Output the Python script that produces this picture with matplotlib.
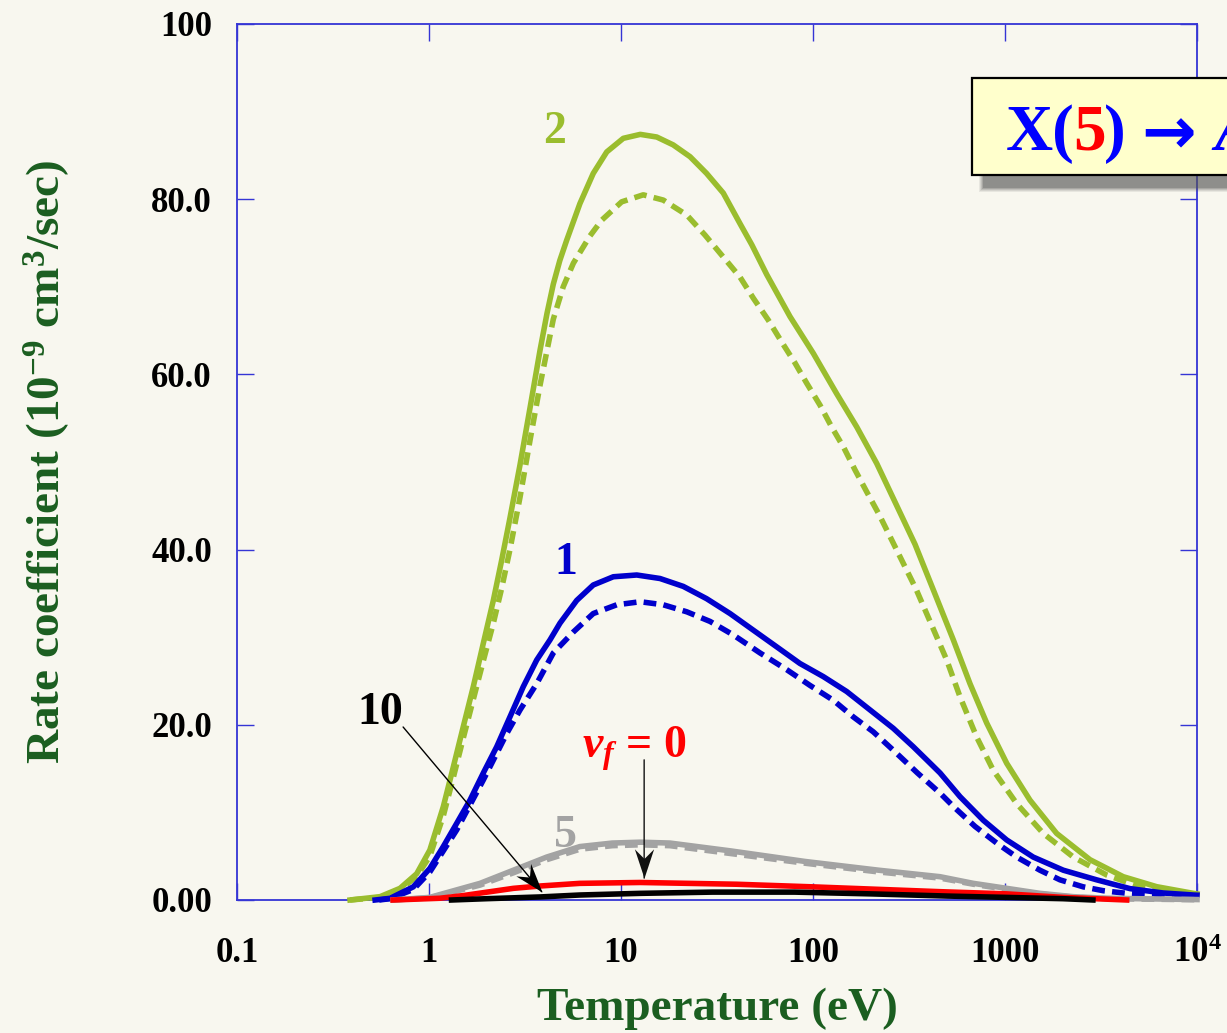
import math
import matplotlib
matplotlib.use("Agg")
import matplotlib.pyplot as plt
import matplotlib.patches as mpatches
from matplotlib.path import Path
from matplotlib.markers import MarkerStyle
from matplotlib.transforms import Affine2D
from matplotlib.ticker import NullLocator, FixedLocator

# ---- data: rate coefficients (1e-9 cm^3/s) vs temperature (eV) ----
# v_f = 2 (solid / dashed)
t_v2 = [0.388, 0.556, 0.706, 0.863, 1.01, 1.187, 1.339, 1.509, 1.701, 1.918, 2.163, 2.391,
        2.64, 2.98, 3.36, 3.79, 4.12, 4.44, 4.8, 5.21, 6.11, 7.17, 8.43, 10.28, 12.6, 15.35,
        18.7, 22.9, 27.9, 34.1, 41.7, 48.0, 57.4, 75.9, 100.4, 132.8, 169, 214.6, 261.9,
        340, 427, 538, 657, 803, 1021, 1349, 1858, 2773, 4130, 6166, 9570, 10000]
k_v2 = [0.0, 0.38, 1.33, 3.0, 5.7, 10.65, 15.2, 19.8, 24.35, 29.3, 34.2, 38.8,
        43.6, 49.7, 56.2, 62.8, 67.0, 70.3, 73.0, 75.3, 79.5, 82.95, 85.4, 86.95, 87.4, 87.1,
        86.2, 84.85, 82.95, 80.7, 77.2, 74.8, 71.4, 66.6, 62.4, 57.8, 54.0, 49.85, 45.85,
        40.6, 35.2, 29.7, 24.7, 20.2, 15.6, 11.4, 7.6, 4.6, 2.66, 1.52, 0.76, 0.7]
t_v2d = [0.388, 0.556, 0.706, 0.863, 1.01, 1.187, 1.339, 1.509, 1.701, 1.918, 2.163, 2.391,
         2.64, 2.98, 3.36, 3.79, 4.44, 5.0, 5.65, 6.89, 7.93, 10.08, 13.06, 16.6, 22.0, 27.4,
         34.1, 41.7, 48.9, 58.5, 68.7, 80.6, 92.7, 108.7, 125.1, 145, 165.5, 190.4, 221,
         344, 497, 583, 712, 869, 1151, 1583, 2270, 3388, 5047, 7530, 9450]
k_v2d = [0.0, 0.3, 1.2, 2.7, 5.0, 9.6, 14.0, 18.5, 22.9, 27.3, 31.6, 35.6,
         40.0, 46.0, 52.5, 58.8, 66.3, 70.0, 72.7, 75.8, 77.6, 79.7, 80.5, 79.9, 78.2, 75.9,
         73.4, 71.1, 68.7, 66.2, 63.7, 61.3, 59.0, 56.5, 54.0, 51.6, 49.1, 46.6, 44.0,
         35.5, 27.4, 23.2, 18.6, 14.8, 11.0, 7.6, 4.9, 2.85, 1.5, 0.95, 0.57]

# v_f = 1
t_v1 = [0.524, 0.627, 0.828, 1.01, 1.187, 1.394, 1.635, 1.918, 2.253, 2.64, 3.097, 3.64,
        4.27, 4.81, 5.88, 7.17, 9.12, 12.08, 15.97, 21.1, 27.9, 36.97, 48.9, 64.7, 85.5,
        113.2, 149.8, 198.1, 261.9, 332.8, 391, 459, 583, 771, 1021, 1403, 2013, 3004,
        4477, 6670, 9570, 10000]
k_v1 = [0.0, 0.19, 1.5, 3.6, 6.1, 8.75, 11.4, 14.5, 17.5, 20.9, 24.35, 27.4,
        29.7, 31.6, 34.2, 35.96, 36.9, 37.1, 36.7, 35.8, 34.4, 32.7, 30.8, 28.9, 27.0,
        25.5, 23.8, 21.7, 19.6, 17.5, 16.0, 14.5, 11.8, 9.1, 6.85, 4.9, 3.4, 2.3,
        1.3, 0.8, 0.57, 0.55]
t_v1d = [0.55, 0.627, 0.828, 1.01, 1.394, 1.918, 2.54, 2.98, 3.64, 4.44, 4.81, 5.65, 7.17,
         9.5, 12.6, 16.6, 22.0, 29.1, 38.5, 53, 72.9, 96.4, 127.6, 162.2, 206, 261.9,
         350, 459, 549, 698, 905, 1151, 1521, 1934, 2557, 3250, 4302, 6166, 8150, 10000]
k_v1d = [0.0, 0.15, 1.2, 3.2, 8.0, 13.7, 19.0, 21.7, 24.7, 28.2, 29.0, 30.6, 32.7,
         33.7, 34.05, 33.7, 32.9, 31.8, 30.25, 28.2, 26.3, 24.5, 22.8, 20.9, 19.2, 17.1,
         14.5, 12.2, 10.5, 8.4, 6.5, 4.9, 3.4, 2.3, 1.5, 1.06, 0.76, 0.57, 0.38, 0.3]

# v_f = 5
t_v5 = [0.65, 1.01, 1.844, 2.75, 4.10, 6.11, 9.0, 12.6, 18.0, 37.4, 90.9, 220,
        459, 684, 1021, 1521, 2270, 3388, 10000]
k_v5 = [0.0, 0.3, 1.9, 3.4, 4.9, 6.1, 6.5, 6.6, 6.5, 5.6, 4.4, 3.4,
        2.66, 1.9, 1.33, 0.76, 0.38, 0.2, 0.05]
k_v5d = [0.0, 0.25, 1.7, 3.1, 4.6, 5.8, 6.2, 6.3, 6.2, 5.3, 4.2, 3.2,
         2.5, 1.8, 1.2, 0.7, 0.33, 0.15, 0.03]

# v_f = 0
t_v0 = [0.65, 1.14, 1.5, 2.75, 3.8, 6.1, 12.6, 40, 100, 459, 1021, 2000, 4302]
k_v0 = [0.0, 0.2, 0.5, 1.33, 1.6, 1.9, 2.0, 1.8, 1.5, 0.95, 0.7, 0.3, 0.0]

# v_f = 10
t_v10 = [1.31, 2.0, 3.8, 6.1, 12.6, 30, 80, 200, 500, 1000, 2000, 2870]
k_v10 = [0.0, 0.15, 0.35, 0.57, 0.76, 0.9, 0.9, 0.7, 0.45, 0.3, 0.15, 0.0]

x_ticks = [0.1, 1, 10, 100, 1000, 1e4]
x_tick_labels = ["0.1", "1", "10", "100", "1000", r"$\mathbf{10^{4}}$"]
y_ticks = [0, 20, 40, 60, 80, 100]
y_tick_labels = ["0.00", "20.0", "40.0", "60.0", "80.0", "100"]

# ---- style ----
W, H = 1227, 1033
BG = "#f8f7ef"
GREEN = "#9abd2e"
BLUE = "#0000cc"
GRAY = "#a3a3a3"
RED = "#ff0000"
BLACK = "#000000"
AXIS_BLUE = "#3535d5"
LABEL_GREEN = "#1b5e20"
SERIF = ["Liberation Serif", "DejaVu Serif"]

plt.rcParams["font.family"] = SERIF
plt.rcParams["font.weight"] = "bold"
plt.rcParams["mathtext.fontset"] = "custom"
plt.rcParams["mathtext.rm"] = "Liberation Serif:bold"
plt.rcParams["mathtext.bf"] = "Liberation Serif:bold"
plt.rcParams["mathtext.it"] = "Liberation Serif:bold:italic"

fig = plt.figure(figsize=(W / 100, H / 100), dpi=100, facecolor=BG)
ax = fig.add_axes([237 / W, (H - 900) / H, 960 / W, 876 / H])
ax.set_facecolor(BG)
ax.set_xscale("log")
ax.set_xlim(0.1, 1e4)
ax.set_ylim(0, 100)

LW = 4.0
DASH = (0, (2.3, 1.3))

ax.plot(t_v2d, k_v2d, color=GREEN, lw=LW, ls=DASH, clip_on=False, zorder=3)
ax.plot(t_v2, k_v2, color=GREEN, lw=LW, clip_on=False, zorder=3)
ax.plot(t_v1d, k_v1d, color=BLUE, lw=LW, ls=DASH, clip_on=False, zorder=3.1)
ax.plot(t_v1, k_v1, color=BLUE, lw=LW, clip_on=False, zorder=3.1)
ax.plot(t_v5, k_v5d, color=GRAY, lw=LW, ls=DASH, clip_on=False, zorder=3.2)
ax.plot(t_v5, k_v5, color=GRAY, lw=LW, clip_on=False, zorder=3.2)
ax.plot(t_v0, k_v0, color=RED, lw=LW, clip_on=False, zorder=3.3)
ax.plot(t_v10, k_v10, color=BLACK, lw=LW, clip_on=False, zorder=3.4)

# axes frame and ticks
for sp in ax.spines.values():
    sp.set_color(AXIS_BLUE)
    sp.set_linewidth(1.3)
ax.xaxis.set_major_locator(FixedLocator(x_ticks))
ax.xaxis.set_minor_locator(NullLocator())
ax.set_xticklabels(x_tick_labels)
ax.set_yticks(y_ticks)
ax.set_yticklabels(y_tick_labels)
ax.tick_params(axis="both", which="major", direction="in", length=12, width=1.0,
               color=AXIS_BLUE, top=True, right=True, labelsize=25,
               labelcolor="black")
ax.tick_params(axis="x", pad=27)
ax.tick_params(axis="y", pad=18)
for lab in ax.get_xticklabels() + ax.get_yticklabels():
    lab.set_fontweight("bold")

ax.set_xlabel("Temperature (eV)", fontsize=34, fontweight="bold", color=LABEL_GREEN,
              labelpad=12)
ax.set_ylabel(r"Rate coefficient (10$^{\mathbf{-9}}$ cm$^{\mathbf{3}}$/sec)", fontsize=34,
              fontweight="bold", color=LABEL_GREEN)
ax.yaxis.set_label_coords(-0.172, 0.5)

# curve labels
LFS = 33
ax.text(4.52, 87.7, "2", color=GREEN, fontsize=LFS, fontweight="bold",
        ha="center", va="center", zorder=5)
ax.text(5.17, 38.5, "1", color=BLUE, fontsize=LFS, fontweight="bold",
        ha="center", va="center", zorder=5)
ax.text(5.17, 7.3, "5", color=GRAY, fontsize=LFS, fontweight="bold",
        ha="center", va="center", zorder=2)
ax.text(0.559, 21.4, "10", color=BLACK, fontsize=LFS, fontweight="bold",
        ha="center", va="center", zorder=5)
ax.text(6.27, 16.3, r"$v_{f}$ = 0", color=RED, fontsize=LFS, fontweight="bold",
        ha="left", va="baseline", zorder=5)

# pointer arrows with notched heads
HEAD = Path([(0, 0), (-1, 0.33), (-0.67, 0), (-1, -0.33), (0, 0)],
            [Path.MOVETO, Path.LINETO, Path.LINETO, Path.LINETO, Path.CLOSEPOLY])


def pointer(start, tip, color):
    ax.annotate("", xy=tip, xytext=start,
                arrowprops=dict(arrowstyle="-", color=color, lw=1.0,
                                shrinkA=0, shrinkB=0), zorder=6)
    p0 = ax.transData.transform(start)
    p1 = ax.transData.transform(tip)
    ang = math.degrees(math.atan2(p1[1] - p0[1], p1[0] - p0[0]))
    mk = MarkerStyle(HEAD, transform=Affine2D().rotate_deg(ang))
    ax.plot([tip[0]], [tip[1]], marker=mk, markersize=42, mew=0, color=color,
            ls="none", clip_on=False, zorder=6)


pointer((0.733, 19.75), (3.86, 0.95), "black")
pointer((13.2, 16.0), (13.2, 2.5), "#111111")

# title box with soft drop shadow (runs off the right edge of the figure)
def fx(x):
    return x / W


def fy(y):
    return 1 - y / H


bx0, by0, bx1, by1 = 972, 78, 1245, 175
for i, a in enumerate([0.10, 0.12, 0.16, 0.22, 0.30]):
    grow = 4 - i
    r = mpatches.Rectangle((fx(bx0 + 11 - grow), fy(by1 + 13 + grow)),
                           fx(bx1 - bx0 + 2 * grow), (by1 - by0 + 2 * grow) / H,
                           transform=fig.transFigure, facecolor="#555555",
                           edgecolor="none", alpha=a, zorder=1)
    fig.patches.append(r)
box = mpatches.Rectangle((fx(bx0), fy(by1)), fx(bx1 - bx0), (by1 - by0) / H,
                         transform=fig.transFigure, facecolor="#ffffcc",
                         edgecolor="black", lw=1.6, zorder=2)
fig.patches.append(box)

TFS = 47
base = fy(150)
fig.text(fx(1006), base, "X(", color="#0000ff", fontsize=TFS, fontweight="bold",
         ha="left", va="baseline", zorder=3)
fig.text(fx(1073), base, "5", color=RED, fontsize=TFS, fontweight="bold",
         ha="left", va="baseline", zorder=3)
fig.text(fx(1104), base, ")", color="#0000ff", fontsize=TFS, fontweight="bold",
         ha="left", va="baseline", zorder=3)
fig.text(fx(1141), fy(154), "\u2192", color="#0000ff", fontsize=TFS, fontweight="bold",
         family=["DejaVu Sans"], ha="left", va="baseline", zorder=3)
fig.text(fx(1214), base, "A", color="#0000ff", fontsize=TFS, fontweight="bold",
         style="italic", ha="left", va="baseline", zorder=3)

fig.savefig("out.png", dpi=100, facecolor=BG)
